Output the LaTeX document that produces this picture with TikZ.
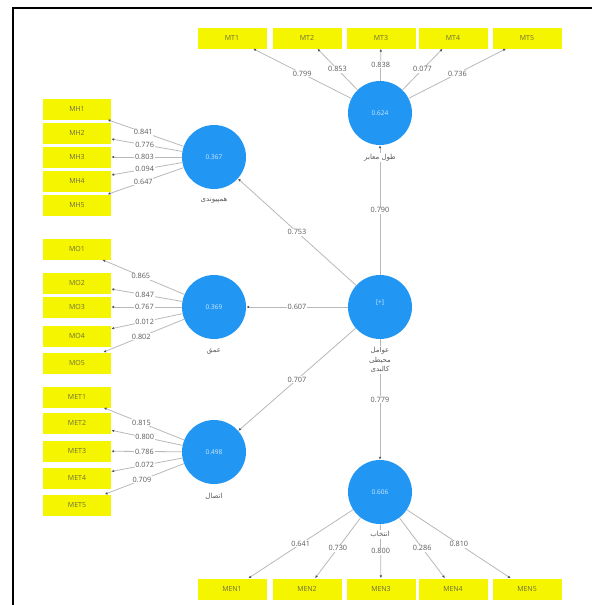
\documentclass[tikz,border=0pt]{standalone}
\usepackage{fontspec}
\setmainfont{Open Sans}
\newfontfamily\arabicfont[Script=Arabic]{DejaVu Sans}
\TeXXeTstate=1
\usetikzlibrary{positioning,arrows.meta}
\definecolor{cLatent}{HTML}{2196F3}
\definecolor{cItem}{HTML}{F5F500}
\definecolor{cItemText}{HTML}{6E6E3C}
\definecolor{cLine}{HTML}{B8B8B8}
\definecolor{cTip}{HTML}{555555}
\definecolor{cLabel}{HTML}{5A5A5A}
\newcommand{\fa}[1]{{\arabicfont\beginR #1\endR}}
\tikzset{
  latent/.style={circle,fill=cLatent,minimum size=64pt,inner sep=0pt,
    text=white!80!cLatent,font=\fontsize{6.5}{7}\selectfont},
  item/.style={rectangle,fill=cItem,minimum width=69pt,minimum height=21pt,
    inner sep=0pt,text=cItemText,font=\fontsize{7}{8}\selectfont},
  link/.style={draw=cLine,line width=0.8pt,-{Latex[length=3pt,width=2.6pt,color=cTip]}},
  coef/.style={fill=white,inner sep=0.8pt,text=cLabel,font=\fontsize{7.3}{8}\selectfont},
  cname/.style={fill=white,inner sep=1pt,text=cLabel,align=center,
    font=\fontsize{7}{9.5}\selectfont}
}
\begin{document}
\begin{tikzpicture}[x=1pt,y=-1pt]
  \useasboundingbox (0,0) rectangle (592,605);
  \draw[line width=1.6pt] (13,605) -- (13,8) -- (592,8);

  % constructs
  \node[latent] (core) at (380,307) {\raisebox{9pt}{[+]}};
  \node[latent] (mt)   at (380,113) {0.624};
  \node[latent] (mh)   at (214,157) {0.367};
  \node[latent] (mo)   at (214,307) {0.369};
  \node[latent] (met)  at (214,452) {0.498};
  \node[latent] (men)  at (380,492) {0.606};

  % structural paths
  \draw[link] (core) -- node[coef] {0.790} (mt);
  \draw[link] (core) -- node[coef] {0.753} (mh);
  \draw[link] (core) -- node[coef] {0.607} (mo);
  \draw[link] (core) -- node[coef] {0.707} (met);
  \draw[link] (core) -- node[coef] {0.779} (men);

  % indicators
  \foreach \n/\x/\w in {1/232/0.799,2/307/0.853,3/381/0.838,4/453/0.077,5/527/0.736}{
    \node[item] (mt\n) at (\x,38) {MT\n};
    \draw[link] (mt) -- node[coef] {\w} (mt\n);
  }
  \foreach \n/\y/\w in {1/109/0.841,2/133/0.776,3/157/0.803,4/181/0.094,5/205/0.647}{
    \node[item,minimum width=68pt] (mh\n) at (77,\y) {MH\n};
    \draw[link] (mh) -- node[coef,pos=0.53] {\w} (mh\n);
  }
  \foreach \n/\y/\w in {1/249/0.865,2/283/0.847,3/307/0.767,4/336/0.012,5/363/0.802}{
    \node[item,minimum width=68pt] (mo\n) at (77,\y) {MO\n};
    \draw[link] (mo) -- node[coef,pos=0.53] {\w} (mo\n);
  }
  \foreach \n/\y/\w in {1/397/0.815,2/423/0.800,3/451/0.786,4/478/0.072,5/505/0.709}{
    \node[item,minimum width=68pt] (met\n) at (77,\y) {MET\n};
    \draw[link] (met) -- node[coef,pos=0.53] {\w} (met\n);
  }
  \foreach \n/\x/\w in {1/232/0.641,2/307/0.730,3/381/0.800,4/453/0.286,5/527/0.810}{
    \node[item] (men\n) at (\x,589) {MEN\n};
    \draw[link] (men) -- node[coef] {\w} (men\n);
  }

  % construct names
  \node[cname,below=8pt of mt]   (mtName)   {\fa{طول معابر}};
  \node[cname,below=8pt of mh]   (mhName)   {\fa{همپیوندی}};
  \node[cname,below=8pt of mo]   (moName)   {\fa{عمق}};
  \node[cname,below=8pt of met]  (metName)  {\fa{اتصال}};
  \node[cname,below=7pt of core] (coreName) {\fa{عوامل}\\\fa{محیطی}\\\fa{کالبدی}};
  \node[cname,below=6pt of men]  (menName)  {\fa{انتخاب}};
\end{tikzpicture}
\end{document}
